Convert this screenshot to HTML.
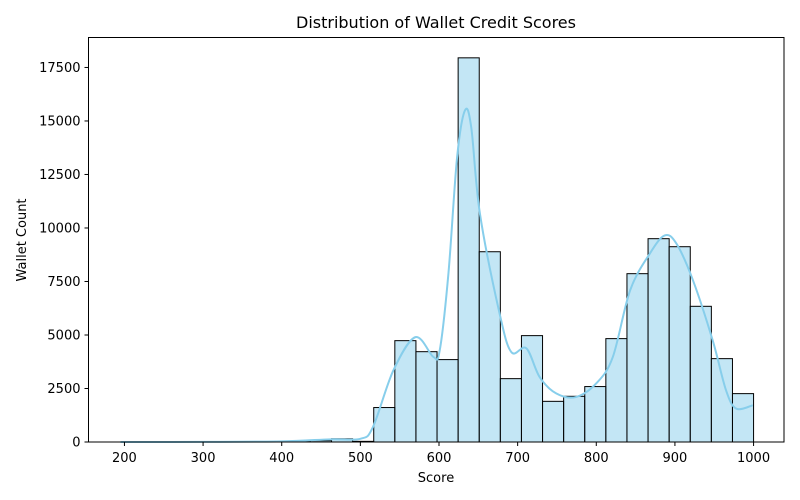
<!DOCTYPE html>
<html><head><meta charset="utf-8"><style>
html,body{margin:0;padding:0;background:#fff;}
svg{display:block;font-family:"DejaVu Sans","Liberation Sans",sans-serif;}
</style></head><body>
<svg id="chart" width="800" height="500">
<rect width="800" height="500" fill="#fff"/>
<text x="436" y="28" font-size="16" text-anchor="middle" fill="#000">Distribution of Wallet Credit Scores</text>
<g id="bars"></g>
<path id="kde" fill="none" stroke="#87CEEB" stroke-width="2"/>
<rect x="88.5" y="37.5" width="695.5" height="404.5" fill="none" stroke="#000" stroke-width="1"/>
<g id="xticks"></g>
<g id="yticks"></g>
<text x="436" y="482" font-size="13" text-anchor="middle">Score</text>
<text transform="translate(26,240) rotate(-90)" font-size="13" text-anchor="middle">Wallet Count</text>
</svg>
<script>
const binStart = 195;
const binEnd = 1000;
const binCounts = [0,0,0,0,0,0,0,20,40,60,150,30,1610,4735,4220,3850,17950,8890,2960,4970,1900,2135,2590,4830,7865,9500,9125,6340,3895,2260];
const kdeX = [195,300,400,462,500,516,542,570,593,601,612,623,633,641,652,677,692,711,728,749,774,800,821,843,868,887,902,923,948,965,978,999];
const kdeY = [0,5,30,125,150,700,3350,4900,3970,4300,7880,13300,15490,14700,10680,6010,4200,4380,3035,2270,2100,2740,3970,7085,8800,9650,9265,7550,4750,2415,1560,1715];
const xTicks = [200,300,400,500,600,700,800,900,1000];
const yTicks = [0,2500,5000,7500,10000,12500,15000,17500];

const X0=88.5,X1=784,Y0=442,Y1=37.5;
const xMin=154.3,xMax=1038.7,yMin=0,yMax=18900;
const sx=v=>X0+(v-xMin)/(xMax-xMin)*(X1-X0);
const sy=v=>Y0-(v-yMin)/(yMax-yMin)*(Y0-Y1);
const NS="http://www.w3.org/2000/svg";
const n=binCounts.length, bw=(binEnd-binStart)/n;
const bars=document.getElementById('bars');
binCounts.forEach((c,i)=>{
  if(c<=0) return;
  const r=document.createElementNS(NS,'rect');
  const a=sx(binStart+i*bw), b=sx(binStart+(i+1)*bw);
  r.setAttribute('x',a);r.setAttribute('width',b-a);
  r.setAttribute('y',sy(c));r.setAttribute('height',sy(0)-sy(c));
  r.setAttribute('fill','rgba(135,206,235,0.5)');r.setAttribute('stroke','#000');r.setAttribute('stroke-width','1');
  
  
  bars.appendChild(r);
});
const pts=kdeX.map((x,i)=>[sx(x),sy(kdeY[i])]);
let d=`M${pts[0][0]},${pts[0][1]}`;
for(let i=0;i<pts.length-1;i++){
  const p0=pts[Math.max(0,i-1)],p1=pts[i],p2=pts[i+1],p3=pts[Math.min(pts.length-1,i+2)];
  const c1=[p1[0]+(p2[0]-p0[0])/6,p1[1]+(p2[1]-p0[1])/6];
  const c2=[p2[0]-(p3[0]-p1[0])/6,p2[1]-(p3[1]-p1[1])/6];
  d+=` C${c1[0]},${Math.min(c1[1],Y0)} ${c2[0]},${Math.min(c2[1],Y0)} ${p2[0]},${p2[1]}`;
}
document.getElementById('kde').setAttribute('d',d);
const xg=document.getElementById('xticks');
xTicks.forEach(t=>{
  const l=document.createElementNS(NS,'line');
  l.setAttribute('x1',sx(t));l.setAttribute('x2',sx(t));l.setAttribute('y1',Y0);l.setAttribute('y2',Y0+4);l.setAttribute('stroke','#000');
  
  
  xg.appendChild(l);
  const tx=document.createElementNS(NS,'text');
  tx.setAttribute('x',sx(t));tx.setAttribute('y',462);tx.setAttribute('font-size','13');tx.setAttribute('text-anchor','middle');
  tx.textContent=t;
  
  
  xg.appendChild(tx);
});
const yg=document.getElementById('yticks');
yTicks.forEach(t=>{
  const l=document.createElementNS(NS,'line');
  l.setAttribute('x1',X0-4);l.setAttribute('x2',X0);l.setAttribute('y1',sy(t));l.setAttribute('y2',sy(t));l.setAttribute('stroke','#000');
  
  
  yg.appendChild(l);
  const tx=document.createElementNS(NS,'text');
  tx.setAttribute('x',X0-8);tx.setAttribute('y',sy(t)+4.5);tx.setAttribute('font-size','13');tx.setAttribute('text-anchor','end');
  tx.textContent=t;
  
  
  yg.appendChild(tx);
});
</script>
</body></html>
